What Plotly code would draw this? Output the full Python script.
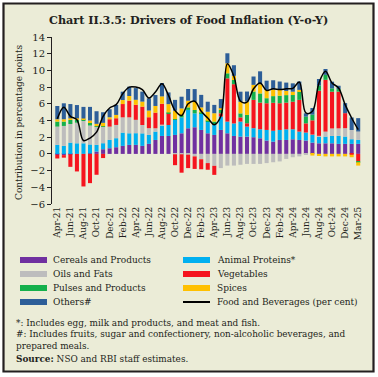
import plotly.graph_objects as go

months = ["Apr-21","May-21","Jun-21","Jul-21","Aug-21","Sep-21","Oct-21","Nov-21","Dec-21",
          "Jan-22","Feb-22","Mar-22","Apr-22","May-22","Jun-22","Jul-22","Aug-22","Sep-22","Oct-22","Nov-22","Dec-22",
          "Jan-23","Feb-23","Mar-23","Apr-23","May-23","Jun-23","Jul-23","Aug-23","Sep-23","Oct-23","Nov-23","Dec-23",
          "Jan-24","Feb-24","Mar-24","Apr-24","May-24","Jun-24","Jul-24","Aug-24","Sep-24","Oct-24","Nov-24","Dec-24",
          "Feb-25","Mar-25"]

cereals = [-0.1, -0.15, -0.05, 0, 0, 0.05, 0.28, 0.56, 0.68, 0.8, 0.96, 1.08,
           1.08, 0.96, 1.2, 1.67, 2.15, 2.15, 2.27, 2.47, 3.07, 3.19, 2.87, 2.47,
           2.27, 2.87, 2.47, 2.15, 2.07, 2.07, 2.0, 1.87, 1.6, 1.47, 1.67,
           1.67, 1.75, 1.67, 1.6, 1.35, 1.27, 1.27, 1.27, 1.2, 1.2, 1.2, 1.2]
animal = [1.08, 0.96, 1.35, 1.27, 1.27, 1.08, 0.8, 0.72, 1.0, 1.08, 1.59, 1.39,
          1.4, 1.5, 1.08, 1.0, 1.31, 1.31, 1.8, 1.9, 2.2, 1.67, 2.0, 1.4,
          1.2, 1.6, 1.4, 1.5, 1.8, 1.2, 1.08, 1.08, 1.27, 1.3, 1.2,
          1.27, 1.2, 1.0, 0.96, 0.92, 0.8, 0.8, 0.88, 0.96, 0.88, 0.56, 0.48]
oils = [2.19, 2.39, 2.23, 2.47, 2.71, 2.27, 2.19, 1.99, 1.59, 1.59, 1.83, 1.91,
        1.6, 1.0, 0.8, 0.4, 0.05, 0, -0.05, -0.05, -0.1, -0.3, -0.64, -1.1,
        -1.43, -1.7, -1.4, -1.4, -1.3, -1.2, -1.2, -1.2, -1.1, -1.0, -0.9,
        -0.6, -0.4, -0.3, -0.1, 0.05, 0.1, 0.6, 0.9, 0.9, 1.0, 1.1, 1.0]
vegetables = [-0.45, -0.3, -1.5, -2.1, -3.9, -3.5, -2.5, -0.5, 0.88, 0.8, 1.59, 1.99,
              1.8, 2.2, 1.31, 1.87, 2.5, 1.4, -1.3, -2.2, -1.6, -1.5, -1.2, -0.8,
              -1.08, 0.4, 5.18, 4.7, 0.5, 0.4, 3.39, 3.19, 3.2, 3.35, 3.2,
              3.2, 3.3, 3.8, 1.1, 1.7, 5.4, 6.2, 4.4, 4.4, 1.8, -0.1, -0.9]
pulses = [0.6, 0.52, 0.48, 0.32, 0.1, 0.4, 0.05, 0.05, 0, 0, 0, 0,
          0, 0, 0, 0, 0, 0.1, 0.1, 0.28, 0.3, 0.4, 0.1, 0.1,
          0.4, 0.4, 0.6, 0.5, 0.48, 1.0, 1.0, 1.1, 0.6, 0.8, 0.9,
          0.9, 0.8, 1.0, 0.8, 0.68, 0.6, 0.6, 0.4, 0.3, 0, 0, -0.1]
spices = [0.28, 0.28, 0.2, 0.2, 0.16, 0.2, 0.28, 0.4, 0.24, 0.4, 0.48, 0.56,
          0.6, 0.6, 0.8, 0.8, 0.88, 1.0, 1.0, 0.8, 0.8, 1.0, 0.6, 1.08,
          1.0, 0.2, 1.2, 0.5, 1.4, 1.6, 0.8, 1.1, 1.0, 0.8, 0.7,
          0.5, 0.4, 0.2, 0, -0.2, -0.25, -0.3, -0.3, -0.3, -0.3, -0.3, -0.4]
others = [1.59, 1.91, 1.71, 1.59, 1.39, 1.63, 1.51, 1.27, 0.96, 1.2, 1.0, 1.12,
          1.4, 1.2, 1.47, 1.31, 1.6, 1.4, 1.3, 1.4, 1.4, 1.5, 1.5, 1.2,
          1.0, 1.1, 1.2, 1.27, 1.2, 1.2, 1.0, 1.55, 1.1, 1.1, 1.0,
          1.0, 1.0, 1.0, 0.4, 0.8, 0.8, 0.7, 0.8, 0.4, 1.2, 1.5, 1.6]
food_bev = [4.2, 5.6, 4.5, 4.1, 1.6, 1.9, 2.6, 4.5, 5.5, 5.9, 7.2, 8.0,
            8.0, 7.7, 6.7, 7.4, 8.4, 7.0, 5.2, 4.6, 6.0, 6.3, 5.1, 4.3,
            3.5, 4.5, 10.8, 9.3, 6.3, 6.2, 7.8, 8.5, 7.6, 7.8, 7.7,
            7.8, 7.85, 8.6, 4.9, 5.1, 8.5, 9.9, 8.5, 7.9, 5.9, 4.3, 2.9]

y_ticks = list(range(-6, 15, 2))

series = [
    ("Cereals and Products", cereals, "#7030A0"),
    ("Animal Proteins*", animal, "#00B0F0"),
    ("Oils and Fats", oils, "#BDBDBD"),
    ("Vegetables", vegetables, "#F5141E"),
    ("Pulses and Products", pulses, "#14B04B"),
    ("Spices", spices, "#FFC000"),
    ("Others#", others, "#2D5E98"),
]
line_name = "Food and Beverages (per cent)"

W, H = 378, 377
L, R, T, B = 52, 362, 37, 204
def px(x):
    return (x - L) / (R - L)
def py(y):
    return (B - y) / (B - T)

FONT = "DejaVu Serif"
INK = "#231F20"
BG = "#EBECD7"

fig = go.Figure()
for name, vals, col in series:
    fig.add_bar(x=months, y=vals, name=name, marker_color=col, marker_line_width=0,
                showlegend=False)
fig.add_scatter(x=months, y=food_bev, name=line_name, mode="lines",
                line=dict(color="black", width=1.5, shape="spline", smoothing=1),
                showlegend=False)

shapes = [dict(type="rect", xref="paper", yref="paper", x0=px(3.5), x1=px(373.5),
               y0=py(3.5), y1=py(371.5), line=dict(color=INK, width=2.2),
               fillcolor=BG, layer="below")]
annotations = [
    dict(text="<b>Chart II.3.5: Drivers of Food Inflation (Y-o-Y)</b>", xref="paper", yref="paper",
         x=px(188.5), y=py(20), xanchor="center", yanchor="middle", showarrow=False,
         font=dict(family=FONT, size=11.2, color=INK)),
    dict(text="Contribution in percentage points", xref="paper", yref="paper",
         x=px(19), y=py(122), xanchor="center", yanchor="middle", textangle=-90, showarrow=False,
         font=dict(family=FONT, size=9, color=INK)),
]

# legend (manual)
cols = [(20, 51), (183, 215)]
rows = [260, 274, 288, 302]
entries = [(n, c, "bar") for n, _, c in series] + [(line_name, "black", "line")]
for k, (name, col, kind) in enumerate(entries):
    r, c = divmod(k, 2)
    sx, tx = cols[c]
    yy = rows[r]
    if kind == "bar":
        shapes.append(dict(type="rect", xref="paper", yref="paper", x0=px(sx), x1=px(sx + 27),
                           y0=py(yy - 3), y1=py(yy + 3), fillcolor=col, line=dict(width=0)))
    else:
        shapes.append(dict(type="line", xref="paper", yref="paper", x0=px(sx), x1=px(sx + 27),
                           y0=py(yy), y1=py(yy), line=dict(color=col, width=2)))
    annotations.append(dict(text=name, xref="paper", yref="paper", x=px(tx), y=py(yy),
                            xanchor="left", yanchor="middle", showarrow=False,
                            font=dict(family=FONT, size=9, color=INK)))

notes = [
    ("*: Includes egg, milk and products, and meat and fish.", 322.5),
    ("#: Includes fruits, sugar and confectionery, non-alcoholic beverages, and", 334),
    ("prepared meals.", 346),
    ("<b>Source:</b> NSO and RBI staff estimates.", 358.5),
]
for txt, yy in notes:
    annotations.append(dict(text=txt, xref="paper", yref="paper", x=px(14), y=py(yy),
                            xanchor="left", yanchor="middle", showarrow=False,
                            font=dict(family=FONT, size=8.9, color=INK)))

xr = [-0.81, 46.58]
fig.update_layout(
    template="none",
    width=W, height=H, barmode="relative", bargap=0.38,
    margin=dict(l=L, r=W - R, t=T, b=H - B, pad=0, autoexpand=False),
    paper_bgcolor="white", plot_bgcolor="rgba(0,0,0,0)",
    font=dict(family=FONT, color=INK), showlegend=False,
    shapes=shapes, annotations=annotations,
    xaxis=dict(type="category", categoryorder="array", categoryarray=months, range=xr,
               tickvals=months[::2], ticktext=months[::2], tickangle=-90, automargin=False,
               tickfont=dict(family=FONT, size=9, color=INK),
               showline=False, ticks="", showgrid=False, zeroline=False),
    xaxis2=dict(overlaying="x", anchor="free", position=6 / 20, type="linear", range=xr,
                tickvals=[i + 0.5 for i in range(1, 46, 2)], ticks="outside", ticklen=3,
                tickcolor=INK, showticklabels=False, showline=True, linecolor=INK,
                linewidth=1, showgrid=False, zeroline=False, automargin=False),
    yaxis=dict(range=[-6, 14], tickvals=y_ticks, showline=True, linecolor=INK, linewidth=1,
               ticks="outside", ticklen=4, tickcolor=INK, showgrid=False, zeroline=False,
               automargin=False, tickfont=dict(family=FONT, size=10, color=INK)),
)
fig.write_html("out.html", config={"displayModeBar": False},
               post_script="document.body.style.margin='0';document.body.style.padding='0';")
